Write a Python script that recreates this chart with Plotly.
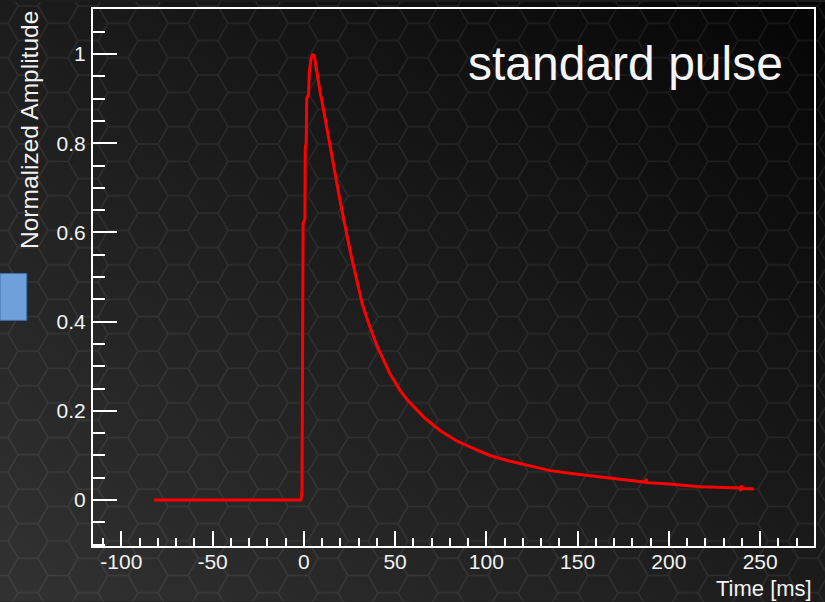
import base64
import plotly.graph_objects as go

# Pulse trace: time in ms, amplitude normalised to the peak
time_ms = [-82, -1.6, -1.0, -0.4, 0.6, 0.8, 1.3, 1.6, 2.6, 3.0, 4.0, 4.9, 5.8, 7.0,
           8.9, 10.0, 14.9, 19.9, 25.4, 32.0, 36.0, 40.7, 47.0, 52.7, 57.0, 66.0,
           74.6, 84.0, 95.0, 102.0, 112.0, 122.0, 135.0, 150.0, 162.0, 175.0,
           187.4, 187.6, 187.8, 200.0, 217.0, 230.0, 239.0, 239.3, 239.6, 240.0,
           246.5]
amplitude = [0.0, 0.0, 0.02, 0.62, 0.63, 0.79, 0.80, 0.90, 0.91, 0.96, 0.99, 1.0,
             0.995, 0.96, 0.915, 0.893, 0.782, 0.670, 0.558, 0.440, 0.390, 0.340,
             0.285, 0.246, 0.223, 0.185, 0.156, 0.132, 0.112, 0.100, 0.088, 0.078,
             0.066, 0.058, 0.052, 0.046, 0.040, 0.048, 0.039, 0.036, 0.030, 0.028,
             0.027, 0.020, 0.033, 0.026, 0.025]

x_range = [-115.5, 279.5]
y_range = [-0.103, 1.101]
x_tick_vals = [-100, -50, 0, 50, 100, 150, 200, 250]
x_tick_text = ["-100", "-50", "0", "50", "100", "150", "200", "250"]
y_tick_step = 0.2

W, H = 825, 602
ML, MR, MT, MB = 93, 11, 7, 56
PW, PH = W - ML - MR, H - MT - MB


def px(xp):
    return (xp - ML) / PW


def py(yp):
    return (H - MB - yp) / PH


# Dark backdrop with a diagonal shade and a faint honeycomb
s = 20.0
h = 3 ** 0.5 * s
hex_path = (f"M0,{h/2:.2f} L{s/2:.2f},0 L{1.5*s:.2f},0 L{2*s:.2f},{h/2:.2f} "
            f"L{1.5*s:.2f},{h:.2f} L{s/2:.2f},{h:.2f} Z M{2*s:.2f},{h/2:.2f} L{3*s:.2f},{h/2:.2f}")
svg = f"""<svg xmlns='http://www.w3.org/2000/svg' width='{W}' height='{H}' viewBox='0 0 {W} {H}'>
<defs>
<linearGradient id='g' x1='0' y1='1' x2='1' y2='0'>
<stop offset='0' stop-color='#323232'/>
<stop offset='0.45' stop-color='#1e1e1e'/>
<stop offset='1' stop-color='#050505'/>
</linearGradient>
<pattern id='hx' width='{3*s:.2f}' height='{h:.2f}' patternUnits='userSpaceOnUse' x='8' y='4'>
<path d='{hex_path}' fill='none' stroke='rgba(255,255,255,0.07)' stroke-width='1.5'/>
</pattern>
</defs>
<rect width='{W}' height='{H}' fill='url(#g)'/>
<rect width='{W}' height='{H}' fill='url(#hx)'/>
</svg>"""
bg_src = "data:image/svg+xml;base64," + base64.b64encode(svg.encode()).decode()

fig = go.Figure()
fig.add_trace(go.Scatter(x=time_ms, y=amplitude, mode="lines",
                         line=dict(color="#ff0000", width=3), hoverinfo="skip"))

axis_common = dict(showgrid=False, zeroline=False, showline=True, linecolor="white",
                   linewidth=2, mirror=True, ticks="inside", tickcolor="white",
                   tickwidth=2, tickfont=dict(family="Liberation Sans", size=21, color="#f2f2f2"))

fig.update_xaxes(range=x_range, tickmode="array", tickvals=x_tick_vals, ticktext=x_tick_text,
                 ticklen=15, ticklabelstandoff=-4,
                 minor=dict(ticks="inside", tick0=0, dtick=10, ticklen=8, tickwidth=2,
                            tickcolor="white"),
                 **axis_common)
fig.update_yaxes(range=y_range, tickmode="linear", tick0=0, dtick=y_tick_step, ticklen=24,
                 ticklabelstandoff=1,
                 minor=dict(ticks="inside", dtick=0.05, ticklen=12, tickwidth=2, tickcolor="white"),
                 **axis_common)

fig.add_layout_image(dict(source=bg_src, xref="paper", yref="paper", x=px(0), y=py(0),
                          sizex=W / PW, sizey=H / PH, sizing="stretch",
                          xanchor="left", yanchor="top", layer="below"))

fig.add_shape(type="rect", xref="paper", yref="paper", x0=px(0), x1=px(26.7),
              y0=py(319.5), y1=py(272.5), fillcolor="#70a0d9",
              line=dict(color="#3f70b0", width=1), layer="above")

fig.add_annotation(text="Normalized Amplitude", textangle=-90, xref="paper", yref="paper",
                   x=px(30), y=py(8), xanchor="center", yanchor="top", showarrow=False,
                   borderpad=0, font=dict(family="Liberation Sans", size=24.5, color="#f2f2f2"))
fig.add_annotation(text="Time [ms]", xref="paper", yref="paper", x=px(813), y=py(589),
                   xanchor="right", yanchor="middle", showarrow=False, borderpad=0,
                   font=dict(family="Liberation Sans", size=22, color="#f2f2f2"))
fig.add_annotation(text="standard pulse", xref="paper", yref="paper", x=px(466), y=py(62),
                   xanchor="left", yanchor="middle", showarrow=False,
                   font=dict(family="Liberation Sans", size=48, color="#f6f6f6"))

fig.update_layout(width=W, height=H, margin=dict(l=ML, r=MR, t=MT, b=MB),
                  paper_bgcolor="#1c1c1c", plot_bgcolor="rgba(0,0,0,0)", showlegend=False)

fig.write_html("out.html")
